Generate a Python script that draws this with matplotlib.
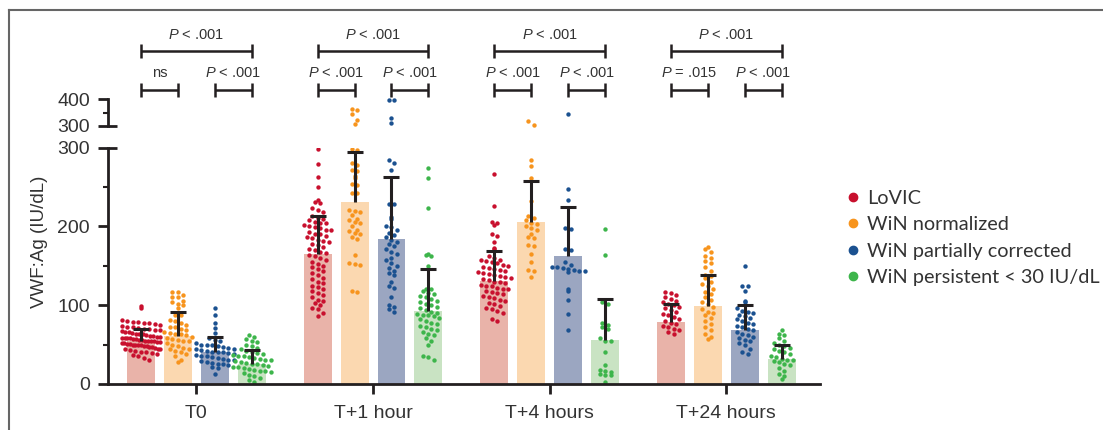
import numpy as np
import matplotlib.pyplot as plt
from matplotlib.lines import Line2D
from matplotlib.transforms import blended_transform_factory

plt.rcParams['font.family'] = ['Liberation Sans', 'DejaVu Sans']
plt.rcParams['mathtext.fontset'] = 'custom'
plt.rcParams['mathtext.it'] = 'Liberation Sans:italic'
plt.rcParams['mathtext.rm'] = 'Liberation Sans'

# categories
timepoints = ['T0', 'T+1 hour', 'T+4 hours', 'T+24 hours']
groups = ['LoVIC', 'WiN normalized', 'WiN partially corrected', 'WiN persistent < 30 IU/dL']
dot_colors = ['#c8102e', '#f7941d', '#1b5190', '#3db54b']
bar_colors = ['#e9b3a9', '#fbd8b0', '#9ba6c1', '#c9e3c3']

# bar heights (mean) and upper error (mean + SD) per group, over timepoints
lovic_mean = [54, 165, 131, 79]
lovic_top = [70, 213, 169, 102]
norm_mean = [61, 231, 206, 99]
norm_top = [91, 295, 258, 138]
part_mean = [40, 184, 163, 69]
part_top = [60, 263, 225, 100]
pers_mean = [25, 93, 56, 32]
pers_top = [43, 146, 108, 50]

# individual values, IU/dL
lovic_t0 = [99, 97, 81, 80, 79, 79, 78, 77, 76, 75, 74, 73, 72, 71, 70, 70, 69, 68, 67, 66,
            66, 65, 64, 63, 63, 62, 61, 61, 60, 60, 59, 59, 58, 58, 57, 57, 56, 56, 55, 55,
            54, 54, 53, 53, 52, 52, 51, 51, 50, 50, 49, 49, 48, 48, 47, 47, 46, 45, 45, 44,
            43, 42, 41, 40, 39, 38, 37, 35, 33, 31]
norm_t0 = [117, 117, 113, 111, 110, 106, 104, 101, 100, 97, 88, 87, 81, 80, 77, 75, 73, 72,
           70, 68, 66, 65, 64, 63, 62, 60, 58, 57, 56, 55, 54, 52, 50, 48, 46, 45, 44, 42,
           40, 38, 36, 30, 28]
part_t0 = [96, 87, 77, 71, 65, 58, 56, 54, 52, 50, 50, 49, 48, 47, 46, 45, 44, 43, 42, 41,
           40, 40, 39, 38, 37, 36, 35, 34, 33, 32, 31, 30, 29, 28, 27, 26, 25, 24, 22, 20, 13]
pers_t0 = [62, 60, 57, 55, 53, 50, 48, 46, 44, 42, 40, 39, 38, 37, 36, 35, 34, 33, 32, 31,
           30, 29, 28, 27, 26, 25, 24, 23, 22, 21, 20, 19, 18, 17, 16, 15, 14, 12, 10, 8, 5, 2]

lovic_t1 = [298, 279, 263, 250, 233, 231, 230, 223, 221, 219, 213, 211, 210, 208, 206, 205,
            204, 202, 200, 199, 198, 196, 195, 193, 191, 190, 188, 186, 185, 183, 181, 180,
            178, 176, 174, 172, 170, 168, 166, 164, 162, 160, 158, 155, 152, 150, 148, 146,
            143, 141, 138, 135, 133, 130, 128, 125, 123, 120, 118, 115, 113, 110, 107, 105,
            103, 100, 97, 95, 90, 86]
norm_t1 = [362, 359, 343, 324, 306, 298, 297, 280, 278, 272, 270, 264, 262, 254, 253, 243,
           242, 221, 220, 218, 214, 210, 208, 206, 204, 200, 196, 194, 192, 190, 186, 184,
           164, 153, 152, 151, 118, 117]
part_t1 = [396, 395, 328, 310, 284, 280, 272, 229, 228, 212, 209, 200, 199, 196, 192, 189,
           186, 183, 180, 178, 175, 172, 168, 165, 160, 157, 153, 150, 147, 143, 141, 138,
           130, 125, 122, 111, 100, 98, 95, 92]
pers_t1 = [274, 261, 223, 165, 164, 163, 150, 121, 120, 118, 116, 114, 112, 110, 108, 106,
           104, 102, 100, 98, 96, 94, 92, 90, 89, 88, 87, 86, 84, 82, 80, 78, 76, 74, 72, 70,
           68, 66, 64, 62, 58, 54, 50, 36, 34, 30]

lovic_t4 = [267, 226, 206, 204, 202, 190, 188, 180, 173, 171, 162, 160, 158, 157, 156, 155,
            153, 151, 150, 148, 147, 146, 145, 143, 142, 141, 140, 138, 137, 136, 135, 133,
            132, 130, 129, 128, 126, 125, 124, 122, 121, 120, 118, 117, 115, 114, 112, 110,
            109, 107, 105, 103, 101, 99, 97, 95, 93, 90, 82, 80]
norm_t4 = [318, 305, 284, 277, 262, 232, 213, 211, 208, 205, 203, 200, 198, 195, 190, 187,
           185, 176, 175, 165, 155, 145, 144, 136]
part_t4 = [343, 247, 234, 198, 197, 172, 170, 155, 151, 149, 148, 147, 146, 145, 144, 143,
           142, 120, 118, 107, 89, 68]
pers_t4 = [197, 164, 104, 102, 77, 75, 72, 70, 58, 55, 54, 41, 24, 18, 16, 15, 13, 12, 11, 2]

lovic_t24 = [117, 115, 113, 111, 108, 106, 104, 102, 100, 98, 96, 94, 91, 89, 87, 85, 83,
             80, 78, 76, 74, 72, 70, 68, 66, 64]
norm_t24 = [174, 171, 167, 163, 160, 156, 153, 149, 143, 139, 137, 134, 130, 127, 124, 120,
            117, 114, 110, 107, 104, 101, 98, 95, 92, 90, 87, 84, 80, 76, 72, 68, 64, 60, 57]
part_t24 = [150, 125, 124, 118, 106, 104, 96, 93, 91, 90, 88, 86, 84, 82, 80, 78, 76, 74,
            72, 70, 68, 66, 64, 62, 60, 58, 56, 54, 52, 50, 45, 40, 38]
pers_t24 = [68, 64, 62, 58, 55, 52, 50, 48, 46, 44, 42, 40, 38, 36, 34, 32, 31, 30, 29, 28,
            26, 24, 20, 16, 13, 10, 6]

# statistics labels
p_all = ['$P$ < .001', '$P$ < .001', '$P$ < .001', '$P$ < .001']
p_first = ['ns', '$P$ < .001', '$P$ < .001', '$P$ = .015']
p_last = ['$P$ < .001', '$P$ < .001', '$P$ < .001', '$P$ < .001']

means = [lovic_mean, norm_mean, part_mean, pers_mean]
tops = [lovic_top, norm_top, part_top, pers_top]
points = [[lovic_t0, lovic_t1, lovic_t4, lovic_t24],
          [norm_t0, norm_t1, norm_t4, norm_t24],
          [part_t0, part_t1, part_t4, part_t24],
          [pers_t0, pers_t1, pers_t4, pers_t24]]


def swarm_offsets(vals, binh=7.5, dx=0.031, maxw=0.22):
    # GraphPad-like scatter: values sharing a row are spread sideways
    vals = np.asarray(vals, float)
    pos = np.where(vals > 300, 300 + (vals - 300) * 0.34, vals)
    bins = np.floor(pos / binh).astype(int)
    offs = np.zeros(len(vals))
    for b in np.unique(bins):
        idx = np.where(bins == b)[0]
        n = len(idx)
        step = min(dx, maxw / max(n - 1, 1))
        offs[idx] = (np.arange(n) - (n - 1) / 2) * step
    return offs


W, H = 1103, 430
fig = plt.figure(figsize=(W / 100, H / 100), dpi=100)
ax = fig.add_axes([108 / W, 1 - 384 / H, 712 / W, (384 - 147.7) / H])
axt = fig.add_axes([108 / W, 1 - 126 / H, 712 / W, 27 / H])

xc = np.arange(len(timepoints))
step = 0.209
width = 0.158
ink = '#231f20'

for g in range(4):
    xs = xc + (g - 1.5) * step
    ax.bar(xs, means[g], width=width, color=bar_colors[g], zorder=1)
    for t in range(4):
        v = np.asarray(points[g][t], float)
        xo = xs[t] + swarm_offsets(v)
        lo = v <= 300
        ax.scatter(xo[lo], v[lo], s=10, color=dot_colors[g], lw=0, zorder=2)
        axt.scatter(xo[~lo], v[~lo], s=10, color=dot_colors[g], lw=0, zorder=2, clip_on=False)
    err = np.array(tops[g]) - np.array(means[g])
    eb = ax.errorbar(xs, means[g], yerr=[np.zeros(4), err], fmt='none', ecolor=ink,
                     elinewidth=2.2, capsize=5.5, capthick=2.2, zorder=3)
    eb[1][0].set_visible(False)

# axes styling
for a in (ax, axt):
    a.set_xlim(-0.5, 3.53)
    a.spines['top'].set_visible(False)
    a.spines['right'].set_visible(False)
    a.spines['left'].set_linewidth(2)
    a.spines['left'].set_color(ink)
    a.tick_params(axis='y', which='major', length=7, width=2, color=ink,
                  labelsize=14, pad=6, labelcolor='#333333')
    a.tick_params(axis='y', which='minor', length=3.5, width=1.5, color=ink)

ax.set_ylim(0, 300)
ax.set_yticks([0, 100, 200, 300])
ax.set_yticks([50, 150, 250], minor=True)
ax.spines['bottom'].set_linewidth(2)
ax.spines['bottom'].set_color(ink)
ax.set_xticks(xc)
ax.set_xticklabels(timepoints)
ax.tick_params(axis='x', length=7, width=2, color=ink, labelsize=14, pad=8,
               labelcolor='#333333')

axt.set_ylim(300, 400)
axt.set_yticks([300, 400])
axt.set_yticks([350], minor=True)
axt.spines['bottom'].set_visible(False)
axt.set_xticks([])
axt.patch.set_visible(False)

# break marks at 300
for a in (ax, axt):
    tr = blended_transform_factory(a.transAxes, a.transData)
    a.plot([0, 0.012], [300, 300], transform=tr, color=ink, lw=2, clip_on=False,
           solid_capstyle='butt')

fig.text(40 / W, 1 - 242 / H, 'VWF:Ag (IU/dL)', rotation=90, ha='center', va='center',
         fontsize=13.5, color='#333333')

# significance brackets
trb = blended_transform_factory(ax.transData, fig.transFigure)


def bracket(x0, x1, ypix, label, ylab):
    y = 1 - ypix / H
    h = 7 / H
    kw = dict(transform=trb, color=ink, lw=1.8, clip_on=False, solid_capstyle='butt')
    fig.add_artist(Line2D([x0, x1], [y, y], **kw))
    fig.add_artist(Line2D([x0, x0], [y - h, y + h], **kw))
    fig.add_artist(Line2D([x1, x1], [y - h, y + h], **kw))
    fig.text((x0 + x1) / 2, 1 - ylab / H, label, transform=trb, ha='center', va='center',
             fontsize=10.5, color='#333333')


for t in range(4):
    xs = xc[t] + (np.arange(4) - 1.5) * step
    bracket(xs[0], xs[3], 51, p_all[t], 35)
    bracket(xs[0], xs[1], 90, p_first[t], 73)
    bracket(xs[2], xs[3], 90, p_last[t], 73)

# legend
handles = [Line2D([], [], marker='o', ls='none', color=c, markersize=6) for c in dot_colors]
fig.legend(handles, groups, loc='upper left', bbox_to_anchor=(847 / W, 1 - 190 / H),
           frameon=False, borderpad=0, borderaxespad=0, handlelength=0.6,
           handletextpad=0.4, labelspacing=0.47,
           prop={'family': ['Lato', 'DejaVu Sans'], 'size': 14.3}, labelcolor='#333333')

# outer frame
fcol = '#666666'
fig.add_artist(Line2D([9 / W, 1], [1 - 10 / H, 1 - 10 / H], transform=fig.transFigure,
                      color=fcol, lw=1.5))
fig.add_artist(Line2D([9 / W, 9 / W], [0, 1 - 10 / H], transform=fig.transFigure,
                      color=fcol, lw=1.5))

fig.savefig('out.png', dpi=100)
